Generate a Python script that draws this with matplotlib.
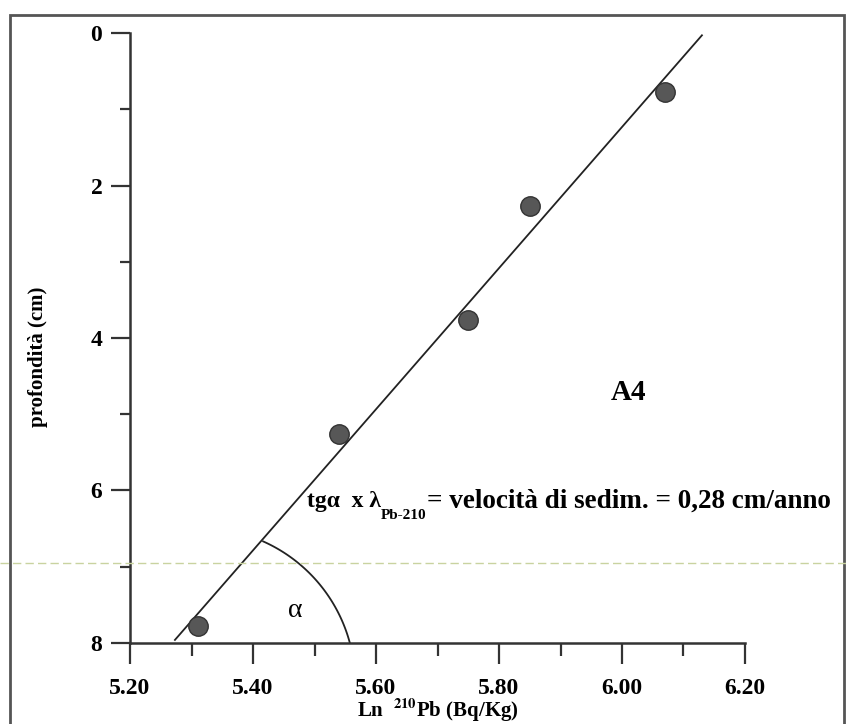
import numpy as np
import matplotlib.pyplot as plt
from matplotlib.lines import Line2D
from matplotlib.patches import Rectangle
from matplotlib.ticker import MultipleLocator

# dati (stazione A4)
ln_pb = [5.31, 5.54, 5.75, 5.85, 6.07]
depth = [7.78, 5.26, 3.76, 2.27, 0.77]

# retta di regressione (estremi)
fit_x = [5.273, 6.130]
fit_y = [7.96, 0.03]

x_ticks = [5.20, 5.40, 5.60, 5.80, 6.00, 6.20]
x_labels = ['5.20', '5.40', '5.60', '5.80', '6.00', '6.20']
y_ticks = [0, 2, 4, 6, 8]

# arco dell'angolo alfa (centro, raggi, angoli in gradi)
arc_c = (5.314, 8.525)
arc_r = (0.252, 2.033)
arc_deg = (15, 66)

plt.rcParams['font.family'] = ['Liberation Serif', 'DejaVu Serif']
plt.rcParams['font.weight'] = 'bold'
plt.rcParams['axes.labelweight'] = 'bold'
plt.rcParams['mathtext.fontset'] = 'stix'

fig = plt.figure(figsize=(8.46, 7.24), dpi=100)
ax = fig.add_axes([0.1537, 0.1119, 0.7269, 0.8425])

ax.plot(fit_x, fit_y, color='#222222', lw=1.3)
ax.plot(ln_pb, depth, 'o', ms=14, mfc='#575757', mec='#333333', mew=1)

t = np.radians(np.linspace(arc_deg[0], arc_deg[1], 80))
ax.plot(arc_c[0] + arc_r[0] * np.cos(t), arc_c[1] - arc_r[1] * np.sin(t),
        color='#222222', lw=1.3, clip_on=False)

ax.set_xlim(5.20, 6.20)
ax.set_ylim(8, 0)
ax.set_xticks(x_ticks)
ax.set_xticklabels(x_labels)
ax.set_yticks(y_ticks)
ax.xaxis.set_minor_locator(MultipleLocator(0.1))
ax.yaxis.set_minor_locator(MultipleLocator(1))

for s in ['top', 'right']:
    ax.spines[s].set_visible(False)
for s in ['left', 'bottom']:
    ax.spines[s].set_linewidth(1.8)
    ax.spines[s].set_color('#333333')

ax.tick_params(axis='y', which='major', length=14, width=1.6, labelsize=17, pad=6, color='#333333')
ax.tick_params(axis='y', which='minor', length=7, width=1.6, color='#333333')
ax.tick_params(axis='x', which='major', length=15, width=1.6, labelsize=17, pad=10, color='#333333')
ax.tick_params(axis='x', which='minor', length=9, width=1.6, color='#333333')

ax.set_xlabel(r'Ln  $^{\mathbf{210}}$Pb (Bq/Kg)', fontsize=15)
ax.xaxis.set_label_coords(0.5, -0.088)
ax.set_ylabel('profondità (cm)', fontsize=15)
ax.yaxis.set_label_coords(-0.133, 0.469)

ax.text(6.01, 4.72, 'A4', fontsize=21, ha='center', va='center')
ax.text(5.468, 7.57, 'α', fontsize=20, fontweight='normal', ha='center', va='center')

t1 = ax.text(5.488, 6.14, 'tgα  x λ', fontsize=17, ha='left', va='center')
t2 = ax.annotate('Pb-210', xy=(1, 0.12), xycoords=t1, fontsize=11, ha='left', va='top')
ax.annotate('= velocità di sedim. = 0,28 cm/anno', xy=(1, 0.5), xycoords=(t2, t1),
            fontsize=19.5, ha='left', va='center')

# cornice e riga della scansione
fig.add_artist(Rectangle((10 / 846, -0.01), 834 / 846, 0.989, transform=fig.transFigure,
                         fill=False, ec='#555555', lw=2))
fig.add_artist(Line2D([0, 1], [1 - 563 / 724] * 2, transform=fig.transFigure,
                      color='#c9d3a0', lw=1, ls=(0, (6, 3))))

fig.savefig('out.png', dpi=100)
